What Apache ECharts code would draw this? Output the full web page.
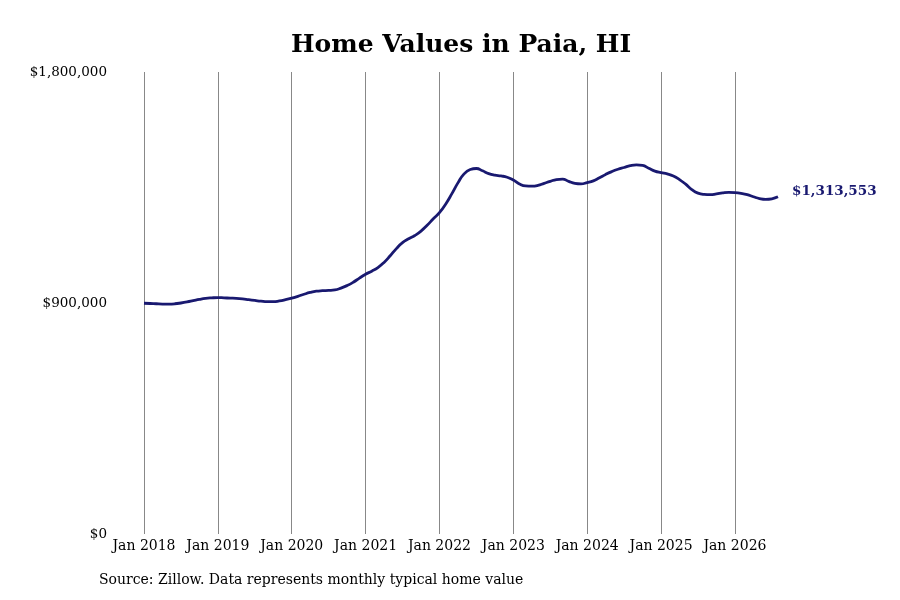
<!DOCTYPE html>
<html>
<head>
    <meta charset="utf-8">
    <title>Home Values in Paia, HI</title>
    <style>
        body { margin: 0; background: #fff; }
        #main { width: 900px; height: 600px; }
    </style>
</head>
<body>
<div id="main"></div>
</body>
<script src="https://cdn.jsdelivr.net/npm/echarts@6/dist/echarts.min.js" type="text/javascript"></script>
<script type="text/javascript">

// monthly typical home value, Jan 2018 .. Aug 2026
var startYear = 2018;
var monthNames = ['Jan','Feb','Mar','Apr','May','Jun','Jul','Aug','Sep','Oct','Nov','Dec'];
var homeValues = [
    899000, 898000, 897000, 896000, 896000, 897000, 900000, 904000, 909000, 914000, 918000, 920000,
    921000, 920000, 919000, 918000, 916000, 913000, 910000, 907000, 905000, 905000, 908000, 913000,
    919000, 926000, 934000, 941000, 946000, 948000, 949000, 951000, 958000, 968000, 981000, 997000,
    1012000, 1024000, 1038000, 1058000, 1084000, 1112000, 1135000, 1150000, 1163000, 1180000, 1203000, 1228000,
    1252000, 1285000, 1325000, 1368000, 1403000, 1420000, 1424000, 1415000, 1404000, 1398000, 1395000, 1390000,
    1379000, 1364000, 1356000, 1355000, 1358000, 1366000, 1374000, 1381000, 1383000, 1374000, 1366000, 1364000,
    1369000, 1376000, 1388000, 1401000, 1412000, 1421000, 1428000, 1435000, 1438000, 1436000, 1425000, 1414000,
    1408000, 1403000, 1395000, 1381000, 1363000, 1342000, 1328000, 1323000, 1322000, 1325000, 1329000, 1331000,
    1330000, 1327000, 1322000, 1314000, 1307000, 1304000, 1306000, 1313553
];
var yTicks = [0, 900000, 1800000];

var months = [];
for (var i = 0; i < homeValues.length; i++) {
    months.push(monthNames[i % 12] + ' ' + (startYear + Math.floor(i / 12)));
}

function money(v) {
    return '$' + Math.round(v).toString().replace(/\B(?=(\d{3})+(?!\d))/g, ',');
}

var font = 'DejaVu Serif';
var myChart = echarts.init(document.getElementById('main'));

var option = {
    animation: false,
    title: {
        text: 'Home Values in Paia, HI',
        left: 286,
        top: 28,
        textStyle: { fontFamily: font, fontSize: 25, fontWeight: 'bold', color: '#000' }
    },
    grid: { left: 144, right: 122, top: 72, bottom: 66 },
    xAxis: {
        type: 'category',
        data: months,
        boundaryGap: false,
        axisLine: { show: false },
        axisTick: { show: false },
        axisLabel: {
            interval: function (idx) { return idx % 12 === 0; },
            fontFamily: font, fontSize: 14, color: '#000', margin: 5
        },
        splitLine: {
            show: true,
            interval: function (idx) { return idx % 12 === 0; },
            lineStyle: { color: '#888', width: 1 }
        }
    },
    yAxis: {
        type: 'value',
        min: yTicks[0],
        max: yTicks[yTicks.length - 1],
        interval: yTicks[1] - yTicks[0],
        splitLine: { show: false },
        axisLine: { show: false },
        axisTick: { show: false },
        axisLabel: {
            formatter: money,
            fontFamily: font, fontSize: 13.5, color: '#000', margin: 37
        }
    },
    series: [{
        type: 'line',
        data: homeValues,
        smooth: true,
        symbol: 'none',
        lineStyle: { color: '#191970', width: 2.8 },
        endLabel: {
            show: true,
            distance: 14,
            offset: [0, -5],
            formatter: function (p) { return money(p.value); },
            fontFamily: font, fontSize: 13.5, fontWeight: 'bold', color: '#191970'
        }
    }],
    graphic: [{
        type: 'text',
        left: 99,
        top: 573,
        style: {
            text: 'Source: Zillow. Data represents monthly typical home value',
            font: '14px "' + font + '"',
            fill: '#000'
        }
    }]
};

myChart.setOption(option);
</script>
</html>
